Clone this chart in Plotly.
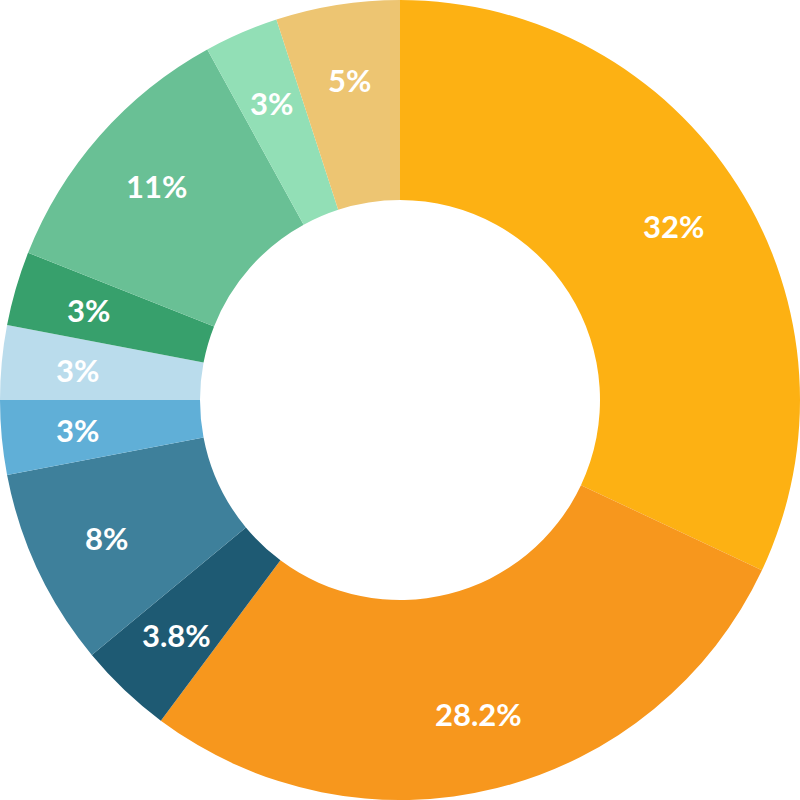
import math
import plotly.graph_objects as go

# slices, clockwise from 12 o'clock
shares = [32, 28.2, 3.8, 8, 3, 3, 3, 11, 3, 5]
labels = ["32%", "28.2%", "3.8%", "8%", "3%", "3%", "3%", "11%", "3%", "5%"]
colors = ["#FDB113", "#F7971D", "#1E5A73", "#3E809B", "#60AFD7",
          "#BADCEC", "#37A06C", "#69C095", "#92DFB6", "#EDC572"]

fig = go.Figure(go.Pie(
    values=shares,
    textinfo="none",
    hole=0.5,
    sort=False,
    direction="clockwise",
    rotation=0,
    marker=dict(colors=colors, line=dict(width=0)),
    showlegend=False,
))

# labels sit on each slice's mid angle, a bit outside the middle of the ring
total = sum(shares)
label_r = 0.81  # fraction of the outer radius
cum = 0
for share, lab in zip(shares, labels):
    mid = (cum + share / 2) / total * 2 * math.pi
    cum += share
    fig.add_annotation(
        x=0.5 + 0.5 * label_r * math.sin(mid),
        y=0.5 + 0.5 * label_r * math.cos(mid),
        xref="paper", yref="paper",
        text=lab, showarrow=False,
        xanchor="center", yanchor="middle",
        font=dict(family="Lato, Open Sans, sans-serif", size=31,
                  color="white", weight="bold"),
    )

fig.update_layout(
    width=800,
    height=800,
    margin=dict(l=0, r=0, t=0, b=0),
    paper_bgcolor="white",
    plot_bgcolor="white",
)

# page body has an 8px default margin; drop it so the chart fills the window
fig.write_html("out.html", config={"displayModeBar": False},
               post_script="document.body.style.margin='0';")
